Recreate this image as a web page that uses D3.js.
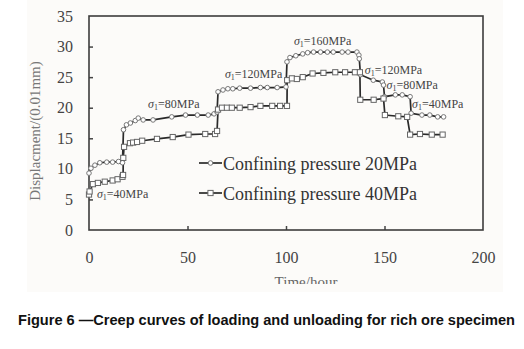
<!DOCTYPE html>
<html>
<head>
<meta charset="utf-8">
<style>
    body { margin: 0; background: #ffffff; }
    svg { display: block; }
</style>
</head>
<body>
<svg width="524" height="349"></svg>
<script src="https://d3js.org/d3.v7.min.js"></script>
<script>
// confining pressure 20MPa (circles)
const time20 = [0, 1, 3, 5.5, 9, 12, 15, 17,
    17.5, 19, 21, 23.5, 25, 27.5, 32.5, 42, 49, 55, 60.5, 63.5, 65,
    65.5, 68, 70.5, 73, 76.5, 82, 87, 90.5, 95.5, 100,
    100.5, 102, 105, 108.5, 111, 114, 117.5, 121, 124, 128.5, 131.5, 136, 137, 137.2,
    137.8, 144.3, 148.9, 149.5,
    150, 155.5, 159, 163,
    163.5, 169, 173, 177, 180];
const disp20 = [9.3, 10.1, 10.6, 11, 11.1, 11.1, 11.2, 11,
    16.4, 17.2, 17.5, 17.9, 18.3, 18, 18, 18.5, 18.8, 18.8, 18.8, 19, 19.3,
    22.6, 22.9, 23.1, 23.1, 23.2, 23.2, 23.3, 23.3, 23.3, 23.4,
    27.5, 28.2, 28.5, 28.8, 29, 29.1, 29.1, 29.1, 29.1, 29.1, 29.1, 29.1, 28.6, 28,
    25.4, 24.5, 24.2, 23.7,
    21.8, 22.1, 22.1, 21.8,
    19.1, 18.8, 18.8, 18.5, 18.5];

// confining pressure 40MPa (squares)
const time40 = [0, 0.3, 2, 4.5, 8, 12, 14.5, 17, 17.3,
    17.4, 17.8, 20.8, 22.4, 24.4, 27, 34.5, 42.5, 50.5, 59, 64, 65,
    65.5, 67.5, 70, 72.5, 76.5, 82, 87, 93, 97, 100.5,
    100.6, 103, 105.5, 108.5, 113.5, 119, 125, 130, 135, 137.5,
    137.7, 144.5, 149.5,
    150.2, 157, 161.5,
    163, 168, 174, 179.5];
const disp40 = [5.8, 6.3, 7.5, 7.7, 7.9, 8.1, 8.3, 8.7, 9.0,
    11.8, 13.6, 14.2, 14.3, 14.4, 14.6, 14.9, 15.2, 15.6, 15.7, 15.7, 16.2,
    19.7, 20, 20, 20, 20, 20.1, 20.3, 20.3, 20.3, 20.3,
    24.5, 24.8, 24.7, 25, 25.6, 25.7, 25.8, 25.8, 25.8, 25.8,
    21.3, 21.3, 21.5,
    18.8, 18.6, 18.5,
    15.6, 15.7, 15.6, 15.6];

const xTicks = [0, 50, 100, 150, 200];
const yTicks = [0, 5, 10, 15, 20, 25, 30, 35];
const legendLabels = ["Confining pressure 20MPa", "Confining pressure 40MPa"];

// stress labels: time / displacement where the text sits
const stressLabels = ["40", "80", "120", "160", "120", "80", "40"];
const stressT = [4, 30, 69, 104, 140, 151, 164];
const stressV = [5.2, 19.9, 24.9, 30.2, 25.5, 23.0, 19.9];

const svg = d3.select("svg");
const serif = "'Liberation Serif', 'Times New Roman', serif";

// paper-ish panel behind the chart
svg.append("rect")
    .attr("x", 27).attr("y", 0)
    .attr("width", 476).attr("height", 292)
    .attr("fill", "#fcfbf9");

const x = d3.scaleLinear().domain([0, 200]).range([89, 483]);
const y = d3.scaleLinear().domain([0, 35]).range([230, 16]);

// axes, ticks pointing inward
const gx = svg.append("g")
    .attr("transform", "translate(0,230)")
    .call(d3.axisBottom(x).tickValues(xTicks).tickSizeInner(-4).tickSizeOuter(0).tickPadding(22));
const gy = svg.append("g")
    .attr("transform", "translate(89,0)")
    .call(d3.axisLeft(y).tickValues(yTicks).tickSizeInner(-4).tickSizeOuter(0).tickPadding(16));

[gx, gy].forEach(g => {
    g.select(".domain").remove();
    g.selectAll(".tick line").attr("stroke", "#444").attr("stroke-width", 1.5);
    g.selectAll(".tick text")
        .attr("font-family", serif)
        .attr("font-size", 16)
        .attr("fill", "#444");
});
gx.selectAll(".tick").filter(d => d === 0 || d === 200).select("line").remove();
gy.selectAll(".tick").filter(d => d === 0 || d === 35).select("line").remove();

// frame
svg.append("rect")
    .attr("x", x(0)).attr("y", y(35))
    .attr("width", x(200) - x(0)).attr("height", y(0) - y(35))
    .attr("fill", "none")
    .attr("stroke", "#3c3c3c")
    .attr("stroke-width", 1.6);

// axis titles
svg.append("clipPath").attr("id", "cut")
    .append("rect").attr("x", 0).attr("y", 0).attr("width", 524).attr("height", 284);
svg.append("text")
    .attr("x", 306).attr("y", 287)
    .attr("text-anchor", "middle")
    .attr("clip-path", "url(#cut)")
    .attr("font-family", serif)
    .attr("font-size", 15)
    .attr("fill", "#666")
    .text("Time/hour");

svg.append("text")
    .attr("transform", "translate(40,131) rotate(-90)")
    .attr("text-anchor", "middle")
    .attr("font-family", serif)
    .attr("font-size", 15)
    .attr("fill", "#777")
    .text("Displacment/(0.01mm)");

// series
const series = [
    { t: time20, v: disp20, shape: "circle" },
    { t: time40, v: disp40, shape: "square" }
];

const line = d3.line().x(d => x(d[0])).y(d => y(d[1]));

function drawMarker(g, shape, cx, cy) {
    if (shape === "circle") {
        g.append("circle")
            .attr("cx", cx).attr("cy", cy).attr("r", 2.3)
            .attr("fill", "#fff").attr("stroke", "#777").attr("stroke-width", 1);
    } else {
        g.append("rect")
            .attr("x", cx - 2.6).attr("y", cy - 2.6)
            .attr("width", 5.2).attr("height", 5.2)
            .attr("fill", "#fff").attr("stroke", "#666").attr("stroke-width", 1);
    }
}

series.forEach(s => {
    const pts = s.t.map((t, i) => [t, s.v[i]]);
    svg.append("path")
        .datum(pts)
        .attr("d", line)
        .attr("fill", "none")
        .attr("stroke", "#2a2a2a")
        .attr("stroke-width", 1.7);
});
series.forEach(s => {
    const g = svg.append("g");
    s.t.forEach((t, i) => drawMarker(g, s.shape, x(t), y(s.v[i])));
});

// stress level labels
stressLabels.forEach((lab, i) => {
    const txt = svg.append("text")
        .attr("x", x(stressT[i]))
        .attr("y", y(stressV[i]))
        .attr("font-family", serif)
        .attr("font-size", 12)
        .attr("fill", "#444");
    txt.append("tspan").attr("font-style", "italic").text("σ");
    txt.append("tspan").attr("font-size", 8).attr("dy", 2).text("1");
    txt.append("tspan").attr("dy", -2).text("=" + lab + "MPa");
});

// legend
legendLabels.forEach((lab, i) => {
    const ly = 163 + i * 30;
    const g = svg.append("g");
    g.append("line")
        .attr("x1", 199).attr("x2", 222)
        .attr("y1", ly).attr("y2", ly)
        .attr("stroke", "#2a2a2a").attr("stroke-width", 1.7);
    drawMarker(g, series[i].shape, 210.5, ly);
    g.append("text")
        .attr("x", 223).attr("y", ly + 7)
        .attr("font-family", serif)
        .attr("font-size", 18)
        .attr("fill", "#333")
        .text(lab);
});

// caption
svg.append("text")
    .attr("x", 18).attr("y", 325)
    .attr("font-family", "'Liberation Sans', Arial, sans-serif")
    .attr("font-weight", "bold")
    .attr("font-size", 14)
    .attr("fill", "#111")
    .attr("textLength", 497)
    .attr("lengthAdjust", "spacingAndGlyphs")
    .text("Figure 6 —Creep curves of loading and unloading for rich ore specimen");
</script>
</body>
</html>
